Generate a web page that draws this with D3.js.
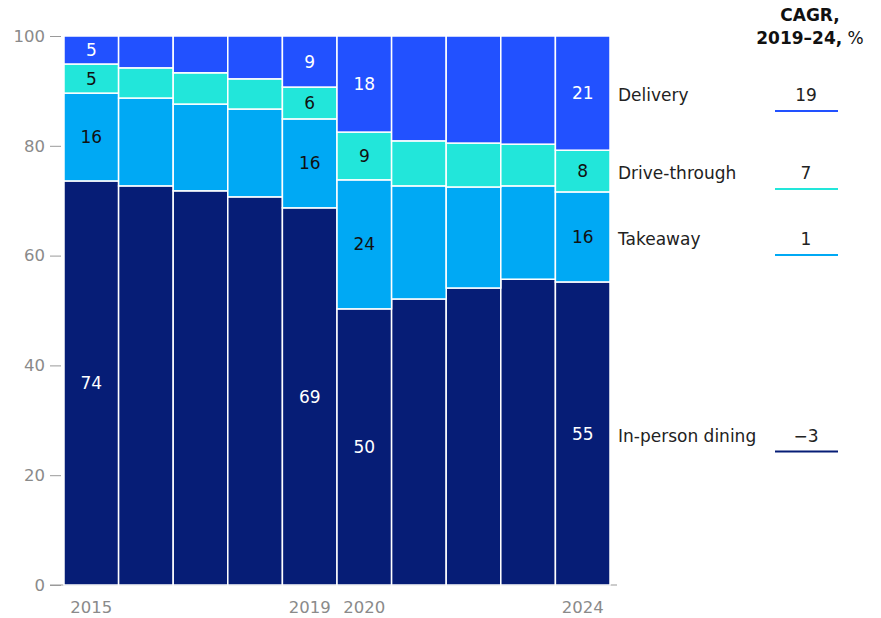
<!DOCTYPE html>
<html lang="en">
<head>
    <meta charset="UTF-8">
    <title>Restaurant channel mix</title>
    <style>
        body {
            margin: 0;
            background: #fff;
            font-family: 'DejaVu Sans', 'Liberation Sans', Arial, sans-serif;
        }
        .tick text {
            fill: #8a8a8a;
            font-size: 16.5px;
            font-family: 'DejaVu Sans', sans-serif;
        }
        .tick line {
            stroke: #9a9a9a;
        }
    </style>
    <script src="https://d3js.org/d3.v7.min.js"></script>
</head>
<body>
    <div id="chart"></div>
    <script>
        const years = ["2015", "2016", "2017", "2018", "2019", "2020", "2021", "2022", "2023", "2024"];
        const shownYears = ["2015", "2019", "2020", "2024"];

        // shares in %, bottom to top
        const inPerson = [73.6, 72.7, 71.8, 70.7, 68.7, 50.3, 52.1, 54.1, 55.7, 55.2];
        const takeaway = [16.0, 16.0, 15.8, 16.0, 16.2, 23.5, 20.6, 18.4, 17.0, 16.4];
        const driveThrough = [5.3, 5.5, 5.7, 5.5, 5.8, 8.7, 8.2, 8.0, 7.6, 7.6];
        const delivery = [5.1, 5.8, 6.7, 7.8, 9.3, 17.5, 19.1, 19.5, 19.7, 20.8];

        const seriesNames = ["In-person dining", "Takeaway", "Drive-through", "Delivery"];
        const seriesColors = ["#061d76", "#00a9f4", "#22e6da", "#2251ff"];
        const labelColors = ["#fff", "#111", "#111", "#fff"];
        const cagr = ["\u22123", "1", "7", "19"];
        const yTicks = [0, 20, 40, 60, 80, 100];

        const width = 881, height = 618;
        const svg = d3.select("#chart").append("svg")
            .attr("width", width)
            .attr("height", height);

        const x = d3.scaleBand().domain(years).range([64, 610]).padding(0);
        const y = d3.scaleLinear().domain([0, 100]).range([585, 36]);

        const rows = years.map((yr, i) => ({
            year: yr,
            "In-person dining": inPerson[i],
            "Takeaway": takeaway[i],
            "Drive-through": driveThrough[i],
            "Delivery": delivery[i]
        }));
        const stacked = d3.stack().keys(seriesNames)(rows);

        // y axis
        const yAxis = svg.append("g")
            .attr("transform", "translate(61,0)")
            .call(d3.axisLeft(y).tickValues(yTicks).tickSize(11).tickPadding(5));
        yAxis.select(".domain").remove();

        // baseline
        svg.append("line")
            .attr("x1", 50).attr("x2", 617)
            .attr("y1", y(0)).attr("y2", y(0))
            .attr("stroke", "#9a9a9a")
            .attr("stroke-width", 1.2);

        // bars
        const layers = svg.selectAll(".layer")
            .data(stacked)
            .enter().append("g")
            .attr("class", "layer")
            .attr("fill", (d, i) => seriesColors[i]);

        layers.selectAll("rect")
            .data(d => d)
            .enter().append("rect")
            .attr("x", d => x(d.data.year))
            .attr("y", d => y(d[1]))
            .attr("width", x.bandwidth())
            .attr("height", d => y(d[0]) - y(d[1]))
            .attr("stroke", "#fff")
            .attr("stroke-width", 1.5);

        // value labels on selected years
        stacked.forEach((layer, i) => {
            svg.selectAll(".val-" + i)
                .data(layer.filter(d => shownYears.includes(d.data.year)))
                .enter().append("text")
                .attr("class", "val-" + i)
                .attr("x", d => x(d.data.year) + x.bandwidth() / 2)
                .attr("y", d => y((d[0] + d[1]) / 2))
                .attr("dy", "0.36em")
                .attr("text-anchor", "middle")
                .attr("font-size", "17px")
                .attr("fill", labelColors[i])
                .text(d => Math.round(d[1] - d[0]));
        });

        // x labels
        svg.selectAll(".xlab")
            .data(shownYears)
            .enter().append("text")
            .attr("class", "xlab")
            .attr("x", d => x(d) + x.bandwidth() / 2)
            .attr("y", 613)
            .attr("text-anchor", "middle")
            .attr("font-size", "16.5px")
            .attr("fill", "#8a8a8a")
            .text(d => d);

        // legend aligned to the last bar
        const last = stacked.map(layer => layer[layer.length - 1]);
        const legend = svg.selectAll(".legend")
            .data(seriesNames)
            .enter().append("g")
            .attr("class", "legend")
            .attr("transform", (d, i) => `translate(0,${y((last[i][0] + last[i][1]) / 2) + 2})`);

        legend.append("text")
            .attr("x", 618)
            .attr("dy", "0.36em")
            .attr("font-size", "17px")
            .attr("fill", "#222")
            .text(d => d);

        legend.append("text")
            .attr("x", 806)
            .attr("dy", "0.36em")
            .attr("text-anchor", "middle")
            .attr("font-size", "17px")
            .attr("fill", "#222")
            .text((d, i) => cagr[i]);

        legend.append("line")
            .attr("x1", 775).attr("x2", 838)
            .attr("y1", 16).attr("y2", 16)
            .attr("stroke", (d, i) => seriesColors[i])
            .attr("stroke-width", 2);

        // CAGR header
        svg.append("text")
            .attr("x", 810).attr("y", 21)
            .attr("text-anchor", "middle")
            .attr("font-size", "17px")
            .attr("font-weight", "bold")
            .attr("fill", "#111")
            .text("CAGR,");

        const h2 = svg.append("text")
            .attr("x", 810).attr("y", 44)
            .attr("text-anchor", "middle")
            .attr("font-size", "17px")
            .attr("fill", "#111");
        h2.append("tspan").attr("font-weight", "bold").text("2019\u201324,");
        h2.append("tspan").text(" %");
    </script>
</body>
</html>
